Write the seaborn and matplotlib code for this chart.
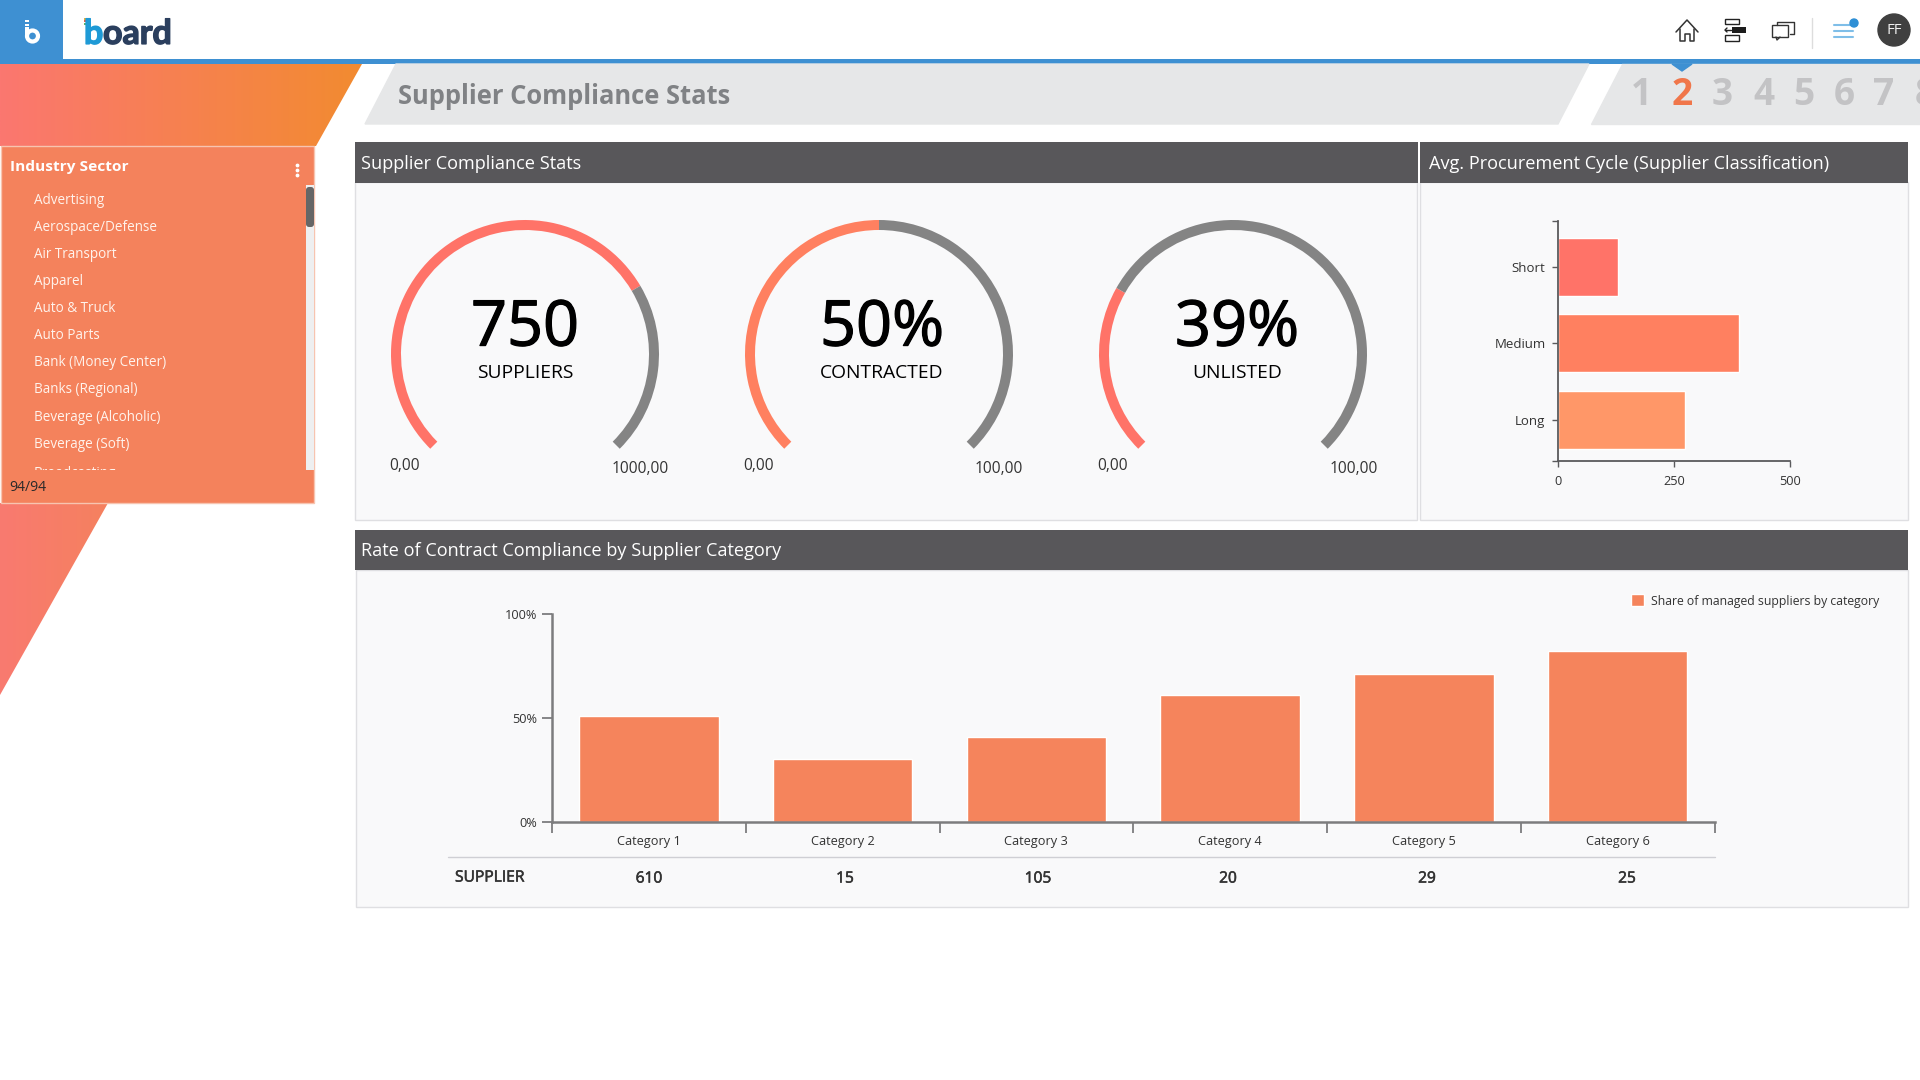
import numpy as np
import pandas as pd
import matplotlib
matplotlib.use("Agg")
import matplotlib.pyplot as plt
import matplotlib.patheffects as pe
from matplotlib.patches import Polygon, Rectangle, Circle, FancyBboxPatch
from matplotlib.colors import LinearSegmentedColormap
import seaborn as sns

# ---------- data ----------
sectors = ["Advertising", "Aerospace/Defense", "Air Transport", "Apparel", "Auto & Truck",
           "Auto Parts", "Bank (Money Center)", "Banks (Regional)", "Beverage (Alcoholic)",
           "Beverage (Soft)", "Broadcasting"]
page_numbers = ["1", "2", "3", "4", "5", "6", "7", "8"]
gauge_values = ["750", "50%", "39%"]
gauge_names = ["SUPPLIERS", "CONTRACTED", "UNLISTED"]
gauge_min = ["0,00", "0,00", "0,00"]
gauge_max = ["1000,00", "100,00", "100,00"]
gauge_arc_share = [0.72, 0.50, 0.276]   # filled part of each arc as drawn
cycle_classes = ["Short", "Medium", "Long"]
cycle_values = [130, 390, 273]
categories = ["Category 1", "Category 2", "Category 3", "Category 4", "Category 5", "Category 6"]
compliance = [51, 30.5, 41, 61, 71, 82]
supplier_counts = ["610", "15", "105", "20", "29", "25"]

sns.set_theme(style="white")
FONT = ["Open Sans", "DejaVu Sans"]
plt.rcParams["font.family"] = FONT

W, H = 1920, 1080
fig = plt.figure(figsize=(W / 100, H / 100), dpi=100, facecolor="white")

def px_axes(x0, y0, x1, y1, **kw):
    return fig.add_axes([x0 / W, 1 - y1 / H, (x1 - x0) / W, (y1 - y0) / H], **kw)

bg = px_axes(0, 0, W, H)
bg.set_xlim(0, W)
bg.set_ylim(H, 0)
bg.axis("off")

def T(x, y, s, size, color="black", weight="normal", ha="center", va="center", **kw):
    return bg.text(x, y + 0.1 * size, s, fontsize=size * 0.72, color=color, fontweight=weight,
                   ha=ha, va=va, **kw)

def R(x0, y0, x1, y1, color, **kw):
    p = Rectangle((x0, y0), x1 - x0, y1 - y0, facecolor=color, edgecolor=kw.pop("edge", "none"),
                  linewidth=kw.pop("lw", 0), **kw)
    bg.add_patch(p)
    return p

def gradient(poly, c0, c1, x0, x1):
    cmap = LinearSegmentedColormap.from_list("g", [c0, c1])
    ys = [p[1] for p in poly]
    im = bg.imshow(np.linspace(0, 1, 256).reshape(1, -1), cmap=cmap, aspect="auto",
                   extent=[x0, x1, max(ys), min(ys)], zorder=1)
    patch = Polygon(poly, closed=True, facecolor="none", edgecolor="none", transform=bg.transData)
    bg.add_patch(patch)
    im.set_clip_path(patch)

# ---------- top bar ----------
R(0, 0, 63, 59, "#3E90D2")
R(0, 59, W, 64, "#3E90D2")
# small "b" mark
R(25, 20, 29, 22, "white")
R(25, 23.5, 29, 25.5, "white")
R(25, 27, 28.5, 36, "white")
bg.add_patch(Circle((32.5, 36), 5.5, facecolor="none", edgecolor="white", linewidth=3, zorder=3))
# wordmark
for s, xx, c in (("b", 84, "#1E9AD6"), ("oard", 103, "#2B3F5E")):
    t = T(xx, 30.5, s, 34, c, "bold", ha="left", family="Lato")
    t.set_path_effects([pe.withStroke(linewidth=1.0, foreground=c)])
for yy, c in zip((17.5, 20, 22.5), ("#E8B23A", "#D9634E", "#5BB36A")):
    R(84, yy, 90, yy + 2, c)

# home icon
bg.plot([1676, 1687, 1698], [32, 20, 32], color="#333", lw=1.1)
bg.plot([1680, 1680, 1685, 1685, 1690, 1690, 1694, 1694], [29, 41, 41, 34, 34, 41, 41, 29], color="#333", lw=1.1)
# layout icon
R(1725, 19, 1739, 24, "white", edge="#222", lw=1)
R(1732, 27, 1746, 33, "#1c1c1c")
R(1725, 35, 1739, 41, "white", edge="#222", lw=1)
bg.plot([1725, 1731], [30, 30], color="#222", lw=1)
bg.plot([1727, 1725, 1727], [28, 30, 32], color="#222", lw=1)
# chat icon
R(1772, 25, 1788, 37, "white", edge="#333", lw=1)
bg.plot([1777, 1777, 1794, 1794, 1790], [25, 22, 22, 34, 34], color="#333", lw=1)
bg.plot([1776, 1777, 1780], [37, 40, 37], color="#333", lw=1)
# menu + avatar
bg.plot([1812, 1812], [18, 48], color="#DDDDDD", lw=1)
for yy in (25, 31, 37):
    bg.plot([1834, 1853], [yy, yy], color="#7FBEE8", lw=1.5)
bg.add_patch(Circle((1854, 23), 4, color="#2E8FD5", zorder=3))
bg.add_patch(Circle((1894, 30), 16, color="#404040", zorder=3))
T(1894, 29.5, "FF", 15, "#EEEEEE", zorder=4)

# ---------- banners ----------
gradient([(0, 64), (362, 64), (316, 146), (0, 146)], "#FB7770", "#F28B30", 0, 362)
gradient([(0, 503), (108, 503), (0, 695)], "#F97A70", "#F5815F", 0, 108)
bg.add_patch(Polygon([(396, 64), (1589, 64), (1558, 124), (365, 124)], color="#E6E7E8"))
bg.add_patch(Polygon([(1622, 64), (W, 64), (W, 124), (1591, 124)], color="#E6E7E8"))
bg.add_patch(Polygon([(1672, 64), (1692, 64), (1682, 71)], color="#3E90D2"))
T(398, 94, "Supplier Compliance Stats", 25.5, "#808285", "bold", ha="left")
page_x = [1641, 1682, 1722, 1764, 1804, 1844, 1884, 1925]
for n, xx in zip(page_numbers, page_x):
    t = T(xx, 91, n, 37, "#F0764A" if n == "2" else "#C3C3C5", "bold")
    t.set_clip_on(True)

# ---------- sidebar ----------
R(1, 146, 314, 503, "#F4825C", edge="#F7C4B0", lw=1, zorder=2)
T(9.5, 165.5, "Industry Sector", 15.4, "white", "bold", ha="left", zorder=3)
for yy in (165.5, 170.5, 175.5):
    bg.add_patch(Circle((297.5, yy), 1.2, color="white", zorder=3))
clip = R(30, 185, 304, 469.5, "none", zorder=2)
item_y = [199, 226, 253, 280, 307, 334, 361, 388, 416, 443, 472]
for s, yy in zip(sectors, item_y):
    t = T(34, yy, s, 13.5, "#FFF3EC", ha="left", zorder=3)
    t.set_clip_on(True)
    t.set_clip_path(clip)
R(306, 185, 314, 470, "#EEEFF0", zorder=3)
bg.add_patch(FancyBboxPatch((307, 188), 6, 38, boxstyle="round,pad=1,rounding_size=3",
                            facecolor="#666666", edgecolor="none", zorder=4))
T(9.5, 486, "94/94", 14, "#2A2A2A", ha="left", zorder=3)

# ---------- panels ----------
HEAD = "#58575A"
BODY = "#F9F9FA"
EDGE = "#DFDFE2"
for (x0, y0, x1, y1) in [(355, 182, 1417, 520), (1420, 182, 1908, 520), (356, 570, 1908, 907)]:
    R(x0, y0, x1, y1, BODY, edge=EDGE, lw=1)
R(355, 142, 1418, 183, HEAD)
R(1420, 142, 1908, 183, HEAD)
R(355, 530, 1908, 570, HEAD)
T(361, 162, "Supplier Compliance Stats", 18.2, "white", ha="left")
T(1429, 162, "Avg. Procurement Cycle (Supplier Classification)", 18.1, "white", ha="left")
T(361, 549, "Rate of Contract Compliance by Supplier Category", 18.1, "white", ha="left")

# ---------- gauges ----------
gauge_cx = [525, 879, 1233]
gauge_tx = [525, 882, 1237]
gauge_cy = 354
RAD = 134
gauge_col = ["#FF7368", "#FF8060", "#FF7368"]
for i, cx in enumerate(gauge_cx):
    gax = px_axes(cx - RAD, gauge_cy - RAD, cx + RAD, gauge_cy + RAD)
    gax.patch.set_alpha(0)
    share = gauge_arc_share[i]
    wedges, _ = gax.pie([share, 1 - share, 1 / 3], startangle=225, counterclock=False, radius=RAD,
                        colors=[gauge_col[i], "#848484", "none"],
                        wedgeprops=dict(width=10, linewidth=0))
    gax.set_xlim(-RAD, RAD)
    gax.set_ylim(-RAD, RAD)
    gax.set_aspect("equal")
    big = T(gauge_tx[i], 323, gauge_values[i], 63, "black")
    big.set_path_effects([pe.withStroke(linewidth=0.9, foreground="black")])
    T(gauge_tx[i], 371, gauge_names[i], 19.3, "black")
for s, xx in zip(gauge_min, (405, 759, 1113)):
    T(xx, 464, s, 15.5, "#333333")
for s, xx in zip(gauge_max, (640, 999, 1354)):
    T(xx, 467, s, 15.5, "#333333")

# ---------- procurement cycle ----------
AX = "#5A5A5C"
ax2 = px_axes(1558, 221, 1790, 461)
ax2.patch.set_alpha(0)
df2 = pd.DataFrame({"cls": cycle_classes, "val": cycle_values})
sns.barplot(data=df2, y="cls", x="val", hue="cls", palette=["#FF7368", "#FF8060", "#FF9768"],
            ax=ax2, legend=False, width=0.76, saturation=1, orient="y")
ax2.set_xlim(0, 500)
ax2.set_ylim(2.54, -0.60)
ax2.set_xticks([0, 250, 500])
ax2.set_xlabel("")
ax2.set_ylabel("")
ax2.set_yticks([-0.60, 2.54], minor=True)
ax2.tick_params(axis="y", which="major", length=4, width=1, color=AX, labelsize=9.5, labelcolor="#333333", pad=5, left=True)
ax2.tick_params(axis="y", which="minor", length=4, width=1, color=AX, left=True)
ax2.tick_params(axis="x", length=4, width=1, color=AX, labelsize=9.2, labelcolor="#333333", pad=6, bottom=True)
for s in ("top", "right"):
    ax2.spines[s].set_visible(False)
for s in ("left", "bottom"):
    ax2.spines[s].set_color(AX)
    ax2.spines[s].set_linewidth(1.3)

# ---------- compliance ----------
AX3 = "#7C7C7E"
ax3 = px_axes(552, 614, 1714.5, 822)
ax3.patch.set_alpha(0)
df3 = pd.DataFrame({"cat": categories, "val": compliance})
sns.barplot(data=df3, x="cat", y="val", color="#F5845C", ax=ax3, width=0.72, saturation=1,
            label="Share of managed suppliers by category")
ax3.set_xlim(-0.5, 5.5)
ax3.set_ylim(0, 100)
ax3.set_xlabel("")
ax3.set_ylabel("")
ax3.set_yticks([0, 50, 100])
ax3.set_yticklabels(["0%", "50%", "100%"])
ax3.set_xticks(np.arange(-0.5, 6, 1), minor=True)
ax3.tick_params(axis="x", which="major", length=0, labelsize=9.2, labelcolor="#333333", pad=9)
ax3.tick_params(axis="x", which="minor", length=8, width=1.3, color=AX3, bottom=True)
ax3.tick_params(axis="y", length=7, width=1.3, color=AX3, labelsize=9.2, labelcolor="#333333", pad=4, left=True)
for s in ("top", "right"):
    ax3.spines[s].set_visible(False)
for s in ("left", "bottom"):
    ax3.spines[s].set_color(AX3)
    ax3.spines[s].set_linewidth(1.8)
ax3.legend(loc="center right", bbox_to_anchor=(1879 / W, 1 - 601 / H), bbox_transform=fig.transFigure,
           frameon=False, fontsize=8.8, handlelength=1.1, handleheight=1.1, handletextpad=0.55,
           labelcolor="#333333", borderpad=0, borderaxespad=0)

# supplier table row
bg.plot([448, 1715], [857, 857], color="#CFCFD4", lw=1)
s_lab = T(455, 876, "SUPPLIER", 15.6, "#333333", ha="left")
s_lab.set_path_effects([pe.withStroke(linewidth=0.4, foreground="#333333")])
row_x = [649, 845, 1038, 1228, 1427, 1627]
for s, xx in zip(supplier_counts, row_x):
    tt = T(xx, 877, s, 15.5, "#333333")
    tt.set_path_effects([pe.withStroke(linewidth=0.4, foreground="#333333")])

fig.savefig("out.png", dpi=100, facecolor="white")
